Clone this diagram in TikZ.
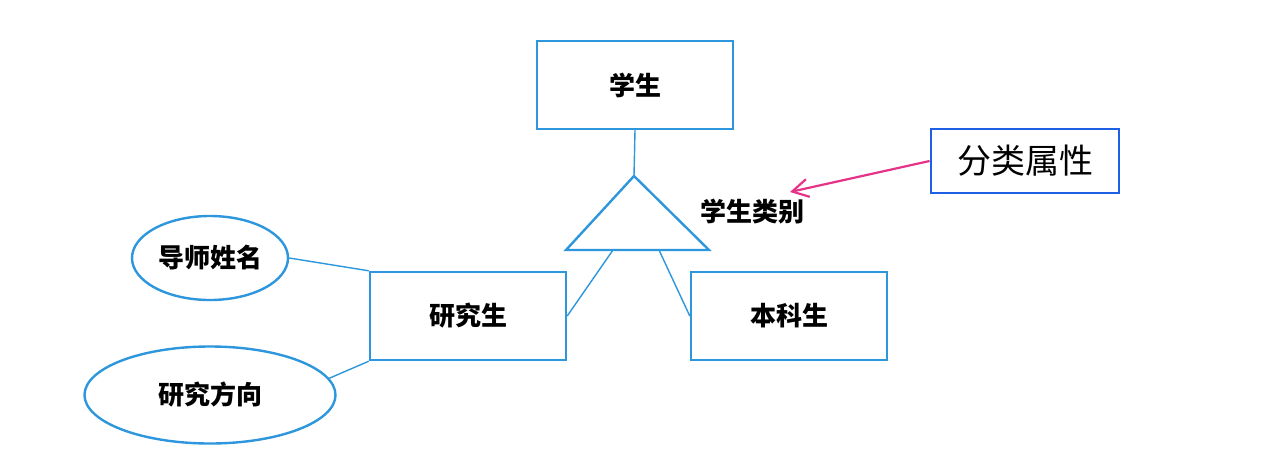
\documentclass[tikz,border=0pt]{standalone}
\usepackage{fontspec}
\newfontfamily\cjk{Noto Sans CJK SC}
\usepackage{tikz}
\usetikzlibrary{shapes.geometric, arrows.meta}
\definecolor{lblue}{RGB}{45,150,220}
\definecolor{dblue}{RGB}{30,95,230}
\definecolor{pinkarr}{RGB}{230,50,135}

\begin{document}
\begin{tikzpicture}[x=0.5pt, y=-0.5pt,
        ent/.style={draw=lblue, line width=1.2pt, minimum width=98pt, minimum height=44pt, inner sep=0pt, font=\cjk\bfseries\fontsize{13}{15}\selectfont},
        attr/.style={ellipse, draw=lblue, line width=1.2pt, inner sep=0pt, font=\cjk\bfseries\fontsize{13}{15}\selectfont}]
            \useasboundingbox (0, 0) rectangle (1269, 461);
            \node[ent](stu) at (635, 85){学生};
            \node[ent](grad) at (468, 316){研究生};
            \node[ent](ugrad) at (789, 316){本科生};
            \node[attr, minimum width=78pt, minimum height=42pt](tutor) at (210, 258){导师姓名};
            \node[attr, minimum width=125.5pt, minimum height=48.5pt](field) at (210, 395){研究方向};
            \node[draw=dblue, line width=1.4pt, minimum width=94pt, minimum height=32pt, font=\cjk\fontsize{17}{19}\selectfont](cls) at (1025, 161){分类属性};
            \coordinate (t) at (634, 176);
            \coordinate (tl) at (566, 250);
            \coordinate (tr) at (709, 250);
            \coordinate (bl) at (613, 250);
            \coordinate (br) at (659, 250);
            \coordinate (tip) at (790, 192);
            \draw[lblue, line width=1.2pt, line join=miter](t)--(tl)--(tr)--cycle;
            \node[font=\cjk\bfseries\fontsize{13}{15}\selectfont](lab) at (752, 212){学生类别};
            \draw[lblue, line width=0.7pt](stu.south)--(t);
            \draw[lblue, line width=0.7pt](bl)--(grad.east);
            \draw[lblue, line width=0.7pt](br)--(ugrad.west);
            \draw[lblue, line width=0.7pt](tutor.east)--(grad.north west);
            \draw[lblue, line width=0.7pt](field.8)--(grad.south west);
            \draw[pinkarr, line width=1.1pt, -{Straight Barb[length=8pt, width=9pt]}](cls.west)--(tip);
        \end{tikzpicture}
\end{document}
